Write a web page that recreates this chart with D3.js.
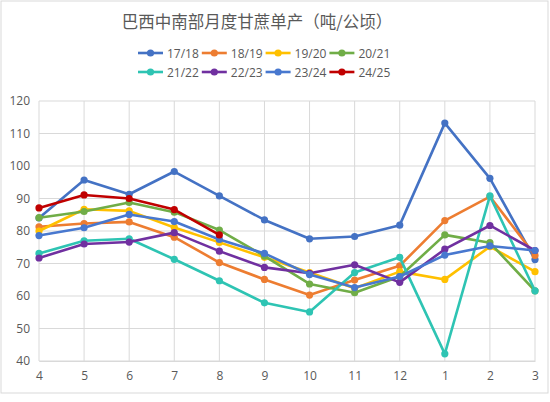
<!DOCTYPE html>
<html>
<head>
<meta charset="utf-8">
<script src="https://cdn.jsdelivr.net/npm/d3@7"></script>
<style>
  body { margin: 0; background: #fff; }
  text { font-family: "Noto Sans CJK SC", "Noto Sans", sans-serif; fill: #595959; }
</style>
</head>
<body>
<script>
// chart data
var months = ["4", "5", "6", "7", "8", "9", "10", "11", "12", "1", "2", "3"];
var seasons = ["17/18", "18/19", "19/20", "20/21", "21/22", "22/23", "23/24", "24/25"];
var colors = ["#4472C4", "#ED7D31", "#FFC000", "#70AD47", "#2EC4B3", "#7030A0", "#4878CF", "#C00000"];
var s1718 = [84.0, 95.7, 91.3, 98.3, 90.8, 83.4, 77.6, 78.3, 81.8, 113.2, 96.2, 71.2];
var s1819 = [81.3, 82.3, 82.8, 78.1, 70.3, 65.1, 60.3, 64.9, 69.3, 83.2, 90.6, 72.5];
var s1920 = [80.0, 86.7, 86.2, 81.1, 76.5, 71.9, 67.2, 62.4, 67.5, 65.1, 75.2, 67.5];
var s2021 = [84.1, 86.0, 88.8, 85.8, 80.3, 72.3, 63.7, 61.0, 66.0, 78.8, 76.4, 61.6];
var s2122 = [73.1, 77.0, 77.6, 71.3, 64.7, 57.9, 55.1, 67.2, 71.9, 42.2, 90.8, 61.6];
var s2223 = [71.7, 76.0, 76.6, 79.5, 73.8, 68.8, 67.0, 69.6, 64.2, 74.4, 81.7, 74.0];
var s2324 = [78.6, 81.0, 85.1, 82.9, 77.4, 73.1, 66.6, 62.6, 66.0, 72.6, 75.4, 74.0];
var s2425 = [87.1, 91.1, 90.0, 86.6, 78.8, null, null, null, null, null, null, null];
var yTicks = [40, 50, 60, 70, 80, 90, 100, 110, 120];

var allSeries = [s1718, s1819, s1920, s2021, s2122, s2223, s2324, s2425];

window.onload = function(){

    var w = 550, h = 402;
    var svg = d3.select("body").append("svg")
        .attr("width", w)
        .attr("height", h);

    // chart frame
    svg.append("rect")
        .attr("x", 1).attr("y", 1)
        .attr("width", 547).attr("height", 392)
        .attr("fill", "#fff")
        .attr("stroke", "#D9D9D9");

    svg.append("text")
        .attr("x", 257).attr("y", 28)
        .attr("text-anchor", "middle")
        .attr("font-size", 16.5)
        .text("巴西中南部月度甘蔗单产（吨/公顷）");

    var x = d3.scalePoint().domain(months).range([39, 535]);
    var y = d3.scaleLinear().domain([40, 120]).range([361, 101]);

    // horizontal gridlines
    svg.append("g").selectAll("line").data(yTicks).join("line")
        .attr("x1", 39).attr("x2", 535)
        .attr("y1", function(d){ return y(d); })
        .attr("y2", function(d){ return y(d); })
        .attr("stroke", "#D9D9D9");

    // vertical gridlines
    svg.append("g").selectAll("line").data(months).join("line")
        .attr("x1", function(d){ return x(d); })
        .attr("x2", function(d){ return x(d); })
        .attr("y1", 101).attr("y2", 361)
        .attr("stroke", "#D9D9D9");

    var yAxis = svg.append("g")
        .attr("transform", "translate(39,0)")
        .call(d3.axisLeft(y).tickValues(yTicks).tickSize(0).tickPadding(9));
    yAxis.select(".domain").remove();
    yAxis.selectAll("text").attr("font-size", 12).attr("fill", "#595959")
        .style("font-family", "'Open Sans', sans-serif");

    var xAxis = svg.append("g")
        .attr("transform", "translate(0,361)")
        .call(d3.axisBottom(x).tickSize(0).tickPadding(10));
    xAxis.select(".domain").attr("stroke", "#D9D9D9");
    xAxis.selectAll("text").attr("font-size", 12).attr("fill", "#595959")
        .style("font-family", "'Open Sans', sans-serif");

    var line = d3.line()
        .defined(function(d){ return d != null; })
        .x(function(d, i){ return x(months[i]); })
        .y(function(d){ return y(d); });

    allSeries.forEach(function(vals, k){
        var g = svg.append("g");
        g.append("path")
            .datum(vals)
            .attr("d", line)
            .attr("fill", "none")
            .attr("stroke", colors[k])
            .attr("stroke-width", 2.6)
            .attr("stroke-linejoin", "round");
        g.selectAll("circle")
            .data(vals.map(function(v, i){ return {v: v, i: i}; }).filter(function(d){ return d.v != null; }))
            .join("circle")
            .attr("cx", function(d){ return x(months[d.i]); })
            .attr("cy", function(d){ return y(d.v); })
            .attr("r", 3.6)
            .attr("fill", colors[k]);
    });

    // legend, two rows of four
    var legend = svg.append("g");
    seasons.forEach(function(s, k){
        var lx = 138 + (k % 4) * 63.8;
        var ly = k < 4 ? 53 : 72;
        var item = legend.append("g").attr("transform", "translate(" + lx + "," + ly + ")");
        item.append("line")
            .attr("x1", 0).attr("x2", 25)
            .attr("stroke", colors[k]).attr("stroke-width", 2.6);
        item.append("circle")
            .attr("cx", 12.5).attr("r", 3.6)
            .attr("fill", colors[k]);
        item.append("text")
            .attr("x", 29).attr("y", 4.5)
            .attr("font-size", 12)
            .style("font-family", "'Open Sans', sans-serif")
            .text(s);
    });
}
</script>
</body>
</html>
